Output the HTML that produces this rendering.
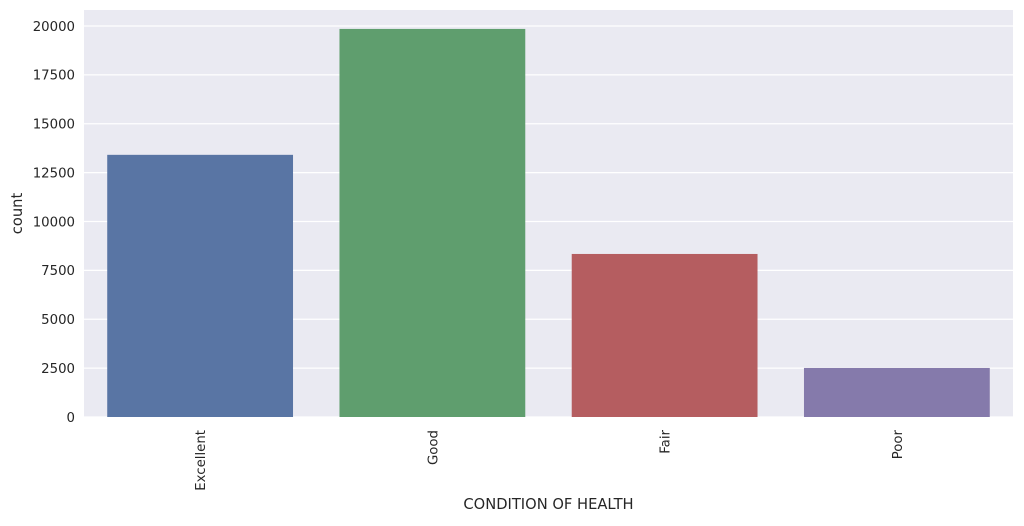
<!DOCTYPE html>
<html><head><meta charset="utf-8"><style>
body{margin:0;background:#fff;font-family:"Liberation Sans","DejaVu Sans",sans-serif;}
svg text{font-family:"DejaVu Sans","Liberation Sans",sans-serif;fill:#262626;}
</style></head><body>
<svg id="chart" width="1024" height="521" xmlns="http://www.w3.org/2000/svg"></svg>
<script>
const categories = ["Excellent","Good","Fair","Poor"];
const counts = [13410, 19850, 8340, 2510];
const colors = ["#5975a4","#5f9e6e","#b55d60","#857aab"];
const yTicks = [0,2500,5000,7500,10000,12500,15000,17500,20000];
const L=84,R=1013,T=10,B=417,yMax=20000,y20=26;
const svg=document.getElementById('chart');
const NS="http://www.w3.org/2000/svg";
function y(v){return B-(B-y20)*v/yMax;}
const band=(R-L)/categories.length;
function x(i){return L+band*i;}
function mk(tag,attrs,parent){const e=document.createElementNS(NS,tag);for(const k in attrs)e.setAttribute(k,attrs[k]);(parent||svg).appendChild(e);return e;}
const bg=mk('rect',{x:L,y:T,width:R-L,height:B-T,fill:'#eaeaf2'});


yTicks.forEach(t=>{
  const g=mk('line',{x1:L,x2:R,y1:y(t),y2:y(t),stroke:'#fff','stroke-width':1.2});
  
  
  const lb=mk('text',{x:L-9,y:y(t)+4.8,'text-anchor':'end','font-size':13.3});
  lb.textContent=t;
  
  
});
categories.forEach((c,i)=>{
  const w=band*0.8, bx=x(i)+band*0.1;
  const r=mk('rect',{x:bx,y:y(counts[i]),width:w,height:B-y(counts[i]),fill:colors[i]});
  
  
  const cx=x(i)+band/2;
  const lb=mk('text',{x:cx+5,y:B+13,'text-anchor':'end','font-size':13.3,transform:`rotate(-90 ${cx+5} ${B+13})`});
  lb.textContent=c;
  
  
});
const xt=mk('text',{x:(L+R)/2,y:509,'text-anchor':'middle','font-size':14.7});
xt.textContent='CONDITION OF HEALTH';


const yt=mk('text',{x:22,y:(T+B)/2,'text-anchor':'middle','font-size':14.7,transform:`rotate(-90 22 ${(T+B)/2})`});
yt.textContent='count';


</script>
</body></html>
